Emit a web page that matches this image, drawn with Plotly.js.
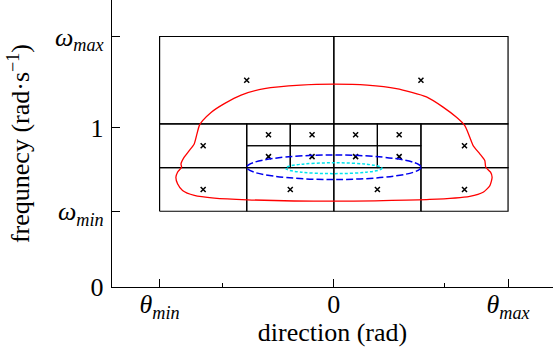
<!DOCTYPE html>
<html><head><meta charset="utf-8">
<script src="https://cdn.plot.ly/plotly-3.0.1.min.js"></script>
<style>html,body{margin:0;padding:0;background:#fff}</style>
</head><body><div id="chart" style="width:553px;height:347px"></div>
<script>
// Quadtree leaf cells (direction theta, frequency omega)
const cellTheta0 = [-1.5708, 0.0, -1.5708, -1.5708, -0.7854, -0.7854, -0.3927, -0.7854, -0.3927, 0.7854, 0.7854, 0.0, 0.0, 0.3927, 0.0, 0.3927];
const cellTheta1 = [0.0, 1.5708, -0.7854, -0.7854, 0.0, -0.3927, 0.0, -0.3927, 0.0, 1.5708, 1.5708, 0.7854, 0.3927, 0.7854, 0.3927, 0.7854];
const cellOmega0 = [1.023, 1.023, 0.749, 0.475, 0.475, 0.749, 0.749, 0.886, 0.886, 0.749, 0.475, 0.475, 0.749, 0.749, 0.886, 0.886];
const cellOmega1 = [1.571, 1.571, 1.023, 0.749, 0.749, 0.886, 0.886, 1.023, 1.023, 1.023, 0.749, 0.749, 0.886, 0.886, 1.023, 1.023];

// Red closed contour
const curveTheta = [0.0, -0.300, -0.626, -0.836, -0.987, -1.107, -1.183, -1.213, -1.238, -1.259, -1.304, -1.349, -1.378, -1.373, -1.409, -1.424, -1.409, -1.364, -1.258, -1.078, -0.777, 0.0,
                    0.864, 1.226, 1.346, 1.407, 1.427, 1.413, 1.370, 1.361, 1.316, 1.256, 1.226, 1.181, 1.106, 0.985, 0.835, 0.564, 0.300, 0.0];
const curveOmega = [1.272, 1.266, 1.244, 1.204, 1.150, 1.095, 1.043, 1.012, 0.949, 0.897, 0.855, 0.814, 0.772, 0.751, 0.720, 0.688, 0.647, 0.605, 0.574, 0.557, 0.547, 0.538,
                    0.549, 0.569, 0.594, 0.636, 0.688, 0.720, 0.751, 0.793, 0.835, 0.887, 0.939, 1.012, 1.064, 1.128, 1.192, 1.244, 1.266, 1.272];

// Ellipses: center, semi-axes
const ellipseNames = ['blue', 'cyan'];
const ellipseTheta = [0.0, 0.0];
const ellipseOmega = [0.751, 0.745];
const ellipseRadTheta = [0.7854, 0.434];
const ellipseRadOmega = [0.077, 0.034];
const ellipseColor = ['#0000ee', '#00e5ee'];
const ellipseDash = ['7px,3px', '3px,2px'];

// Axis ticks
const xTickVals = [-1.5708, 0, 1.5708];
const xTickText = ['<i>θ</i><sub><i>min</i></sub>', '0', '<i>θ</i><sub><i>max</i></sub>'];
const xMinorVals = [-1, 1];
const yTickVals = [0, 0.475, 1, 1.5708];
const yTickText = ['0', '<i>ω</i><sub><i>min</i></sub>', '1', '<i>ω</i><sub><i>max</i></sub>'];

// Build rectangle outlines
const rx = [], ry = [];
for (let i = 0; i < cellTheta0.length; i++) {
  rx.push(cellTheta0[i], cellTheta1[i], cellTheta1[i], cellTheta0[i], cellTheta0[i], null);
  ry.push(cellOmega0[i], cellOmega0[i], cellOmega1[i], cellOmega1[i], cellOmega0[i], null);
}
const cx = cellTheta0.map((v, i) => (v + cellTheta1[i]) / 2);
const cy = cellOmega0.map((v, i) => (v + cellOmega1[i]) / 2);

const traces = [
  {x: rx, y: ry, mode: 'lines', line: {color: '#000', width: 1.2}, hoverinfo: 'skip', showlegend: false},
  {x: curveTheta, y: curveOmega, mode: 'lines', line: {color: '#ff0000', width: 1.3, shape: 'spline', smoothing: 0.6}, showlegend: false},
  {x: cx, y: cy, mode: 'markers', marker: {symbol: 'x-thin', size: 5, color: '#000', line: {color: '#000', width: 1.5}}, showlegend: false}
];

const shapes = ellipseNames.map((n, i) => ({
  type: 'circle', xref: 'x', yref: 'y', layer: 'above',
  x0: ellipseTheta[i] - ellipseRadTheta[i], x1: ellipseTheta[i] + ellipseRadTheta[i],
  y0: ellipseOmega[i] - ellipseRadOmega[i], y1: ellipseOmega[i] + ellipseRadOmega[i],
  line: {color: ellipseColor[i], width: 1.5, dash: ellipseDash[i]}
}));

const fam = '"Liberation Serif", "Times New Roman", "DejaVu Serif", serif';
const tickFont = {family: fam, size: 26, color: '#000'};
const titleFont = {family: fam, size: 26, color: '#000'};
const layout = {
  width: 553, height: 347,
  margin: {l: 112, r: 0, t: 0, b: 60, pad: 0},
  paper_bgcolor: '#fff', plot_bgcolor: '#fff',
  font: {family: fam, size: 24, color: '#000'},
  showlegend: false,
  shapes: shapes,
  xaxis: {
    range: [-2.0, 1.976], showgrid: false, zeroline: false,
    showline: true, linecolor: '#000', linewidth: 1.2,
    ticks: 'inside', ticklen: 8, tickwidth: 1, tickcolor: '#000',
    tickmode: 'array', tickvals: xTickVals, ticktext: xTickText,
    minor: {tickmode: 'array', tickvals: xMinorVals, ticks: 'inside', ticklen: 4, tickwidth: 1, tickcolor: '#000', showgrid: false},
    tickfont: tickFont, ticklabelstandoff: -6,
    title: {text: 'direction (rad)', font: titleFont, standoff: 0}
  },
  yaxis: {
    range: [0, 1.8], showgrid: false, zeroline: false,
    showline: true, linecolor: '#000', linewidth: 1.2,
    ticks: 'inside', ticklen: 8, tickwidth: 1, tickcolor: '#000',
    tickmode: 'array', tickvals: yTickVals, ticktext: yTickText,
    tickfont: tickFont, ticklabelstandoff: 2,
    title: {text: 'frequnecy (rad·s<sup>−1</sup>)', font: titleFont, standoff: 17}
  }
};

Plotly.newPlot('chart', traces, layout, {displayModeBar: false, staticPlot: true});
</script>
</body></html>
